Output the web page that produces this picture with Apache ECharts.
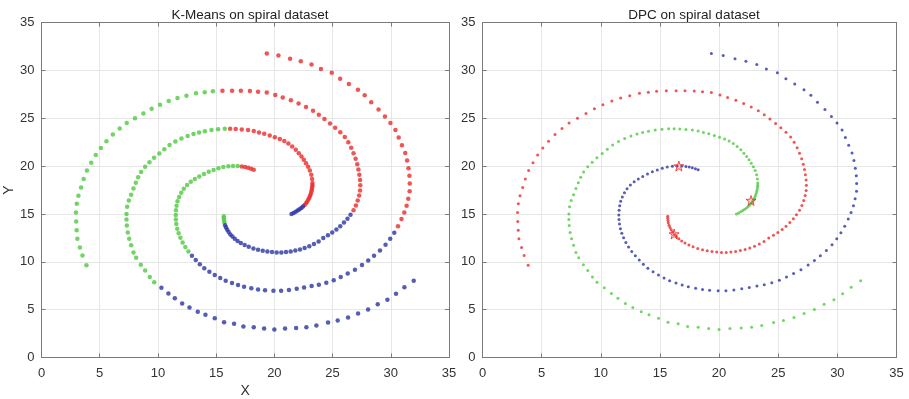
<!DOCTYPE html>
<html>
<head>
<meta charset="utf-8">
<script src="https://cdn.jsdelivr.net/npm/echarts@6/dist/echarts.min.js"></script>
<style>
  html, body { margin: 0; padding: 0; background: #fff; }
  #chart { width: 909px; height: 399px; }
</style>
</head>
<body>
<div id="chart"></div>
<script>
// each point: [x, y, k-means cluster]; the arm itself is the DPC cluster
const armGreen = [
  [31.97, 8.01, 'b'], [31.17, 7.35, 'b'], [30.45, 6.65, 'b'], [29.71, 6.03, 'b'], [28.88, 5.57, 'b'],
  [28.05, 5.02, 'b'], [27.19, 4.6, 'b'], [26.33, 4.18, 'b'], [25.44, 3.87, 'b'], [24.61, 3.66, 'b'],
  [23.61, 3.34, 'b'], [22.75, 3.17, 'b'], [21.87, 3.07, 'b'], [20.92, 3.03, 'b'], [20.0, 2.93, 'b'],
  [19.12, 3.03, 'b'], [18.23, 3.17, 'b'], [17.34, 3.24, 'b'], [16.54, 3.52, 'b'], [15.68, 3.69, 'b'],
  [14.88, 4.11, 'b'], [14.08, 4.46, 'b'], [13.42, 4.77, 'b'], [12.71, 5.22, 'b'], [12.08, 5.64, 'b'],
  [11.45, 6.2, 'b'], [10.9, 6.69, 'b'], [10.3, 7.28, 'b'],
  [9.68, 7.87, 'g'], [9.3, 8.4, 'g'], [8.9, 9.09, 'g'], [8.53, 9.68, 'g'], [8.13, 10.41, 'g'],
  [7.9, 10.97, 'g'], [7.7, 11.74, 'g'], [7.53, 12.4, 'g'], [7.41, 13.06, 'g'], [7.33, 13.79, 'g'],
  [7.3, 14.42, 'g'], [7.3, 14.98, 'g'], [7.36, 15.74, 'g'], [7.5, 16.4, 'g'], [7.7, 17.0, 'g'],
  [7.9, 17.65, 'g'], [8.1, 18.25, 'g'], [8.3, 18.82, 'g'], [8.55, 19.37, 'g'], [8.9, 19.93, 'g'],
  [9.27, 20.4, 'g'], [9.67, 20.88, 'g'], [10.12, 21.32, 'g'], [10.55, 21.75, 'g'], [11.0, 22.2, 'g'],
  [11.5, 22.58, 'g'], [12.02, 22.88, 'g'], [12.55, 23.14, 'g'], [13.06, 23.36, 'g'], [13.53, 23.52, 'g'],
  [14.03, 23.65, 'g'], [14.6, 23.76, 'g'], [15.17, 23.85, 'g'], [15.74, 23.89, 'g'],
  [16.2, 23.89, 'r'], [16.68, 23.87, 'r'], [17.2, 23.83, 'r'], [17.74, 23.77, 'r'], [18.23, 23.66, 'r'],
  [18.68, 23.52, 'r'], [19.13, 23.37, 'r'], [19.6, 23.2, 'r'], [20.04, 23.02, 'r'], [20.47, 22.82, 'r'],
  [20.85, 22.62, 'r'], [21.2, 22.36, 'r'], [21.53, 22.04, 'r'], [21.84, 21.7, 'r'], [22.1, 21.35, 'r'],
  [22.33, 21.0, 'r'], [22.53, 20.65, 'r'], [22.72, 20.3, 'r'], [22.9, 19.94, 'r'], [23.05, 19.54, 'r'],
  [23.17, 19.1, 'r'], [23.24, 18.65, 'r'], [23.27, 18.22, 'r'], [23.27, 18.0, 'r'], [23.25, 17.78, 'r'],
  [23.22, 17.56, 'r'], [23.18, 17.34, 'r'], [23.13, 17.12, 'r'], [23.07, 16.91, 'r'], [23.0, 16.7, 'r'],
  [22.92, 16.5, 'r'], [22.82, 16.3, 'r'], [22.72, 16.11, 'r'], [22.6, 15.93, 'r'],
  [22.46, 15.77, 'b'], [22.32, 15.62, 'b'], [22.16, 15.48, 'b'], [22.0, 15.35, 'b'], [21.83, 15.22, 'b'],
  [21.65, 15.1, 'b'], [21.47, 14.98, 'b']
];

const armRed = [
  [3.86, 9.65, 'g'], [3.52, 10.66, 'g'], [3.3, 11.5, 'g'], [3.08, 12.4, 'g'], [3.02, 13.3, 'g'],
  [2.98, 14.22, 'g'], [2.96, 15.15, 'g'], [3.03, 16.06, 'g'], [3.17, 16.9, 'g'], [3.4, 17.76, 'g'],
  [3.62, 18.66, 'g'], [3.9, 19.55, 'g'], [4.27, 20.35, 'g'], [4.66, 21.15, 'g'], [5.1, 21.88, 'g'],
  [5.58, 22.6, 'g'], [6.13, 23.3, 'g'], [6.72, 23.93, 'g'], [7.32, 24.5, 'g'], [8.03, 25.0, 'g'],
  [8.75, 25.5, 'g'], [9.46, 26.0, 'g'], [10.18, 26.4, 'g'], [10.93, 26.8, 'g'], [11.68, 27.1, 'g'],
  [12.45, 27.35, 'g'], [13.27, 27.6, 'g'], [14.02, 27.72, 'g'], [14.72, 27.82, 'g'],
  [15.54, 27.86, 'r'], [16.37, 27.86, 'r'], [17.12, 27.86, 'r'], [17.9, 27.84, 'r'], [18.6, 27.77, 'r'],
  [19.35, 27.68, 'r'], [20.08, 27.43, 'r'], [20.72, 27.17, 'r'], [21.42, 26.87, 'r'], [22.08, 26.53, 'r'],
  [22.72, 26.16, 'r'], [23.32, 25.77, 'r'], [23.82, 25.35, 'r'], [24.3, 24.93, 'r'], [24.78, 24.46, 'r'],
  [25.22, 24.0, 'r'], [25.66, 23.53, 'r'], [26.05, 23.04, 'r'], [26.35, 22.5, 'r'], [26.6, 21.92, 'r'],
  [26.8, 21.34, 'r'], [26.98, 20.77, 'r'], [27.12, 20.2, 'r'], [27.22, 19.65, 'r'], [27.3, 19.1, 'r'],
  [27.36, 18.55, 'r'], [27.38, 18.0, 'r'], [27.36, 17.45, 'r'], [27.28, 16.92, 'r'], [27.16, 16.4, 'r'],
  [27.0, 15.88, 'r'], [26.8, 15.38, 'r'],
  [26.54, 14.92, 'b'], [26.28, 14.5, 'b'], [25.98, 14.1, 'b'], [25.66, 13.72, 'b'], [25.33, 13.38, 'b'],
  [24.97, 13.06, 'b'], [24.6, 12.77, 'b'], [24.2, 12.48, 'b'], [23.8, 12.12, 'b'], [23.4, 11.86, 'b'],
  [23.0, 11.62, 'b'], [22.6, 11.43, 'b'], [22.2, 11.28, 'b'], [21.8, 11.17, 'b'], [21.4, 11.08, 'b'],
  [21.0, 11.02, 'b'], [20.6, 10.98, 'b'], [20.2, 10.98, 'b'], [19.8, 11.02, 'b'], [19.4, 11.07, 'b'],
  [19.0, 11.14, 'b'], [18.6, 11.25, 'b'], [18.2, 11.4, 'b'], [17.8, 11.56, 'b'], [17.45, 11.75, 'b'],
  [17.12, 11.96, 'b'], [16.84, 12.17, 'b'], [16.6, 12.4, 'b'], [16.4, 12.63, 'b'], [16.22, 12.86, 'b'],
  [16.07, 13.1, 'b'], [15.95, 13.34, 'b'], [15.85, 13.58, 'b'], [15.77, 13.82, 'b'],
  [15.71, 14.08, 'g'], [15.68, 14.32, 'g'], [15.66, 14.55, 'g'], [15.66, 14.76, 'g']
];

const armBlue = [
  [19.35, 31.76, 'r'], [20.35, 31.55, 'r'], [21.35, 31.21, 'r'], [22.27, 30.96, 'r'], [23.19, 30.6, 'r'],
  [24.0, 30.15, 'r'], [24.93, 29.74, 'r'], [25.65, 29.12, 'r'], [26.4, 28.58, 'r'], [27.18, 27.98, 'r'],
  [27.76, 27.4, 'r'], [28.32, 26.68, 'r'], [28.95, 25.92, 'r'], [29.5, 25.18, 'r'], [29.97, 24.5, 'r'],
  [30.4, 23.78, 'r'], [30.68, 22.98, 'r'], [30.96, 22.18, 'r'], [31.24, 21.36, 'r'], [31.4, 20.57, 'r'],
  [31.52, 19.78, 'r'], [31.6, 18.98, 'r'], [31.63, 18.18, 'r'], [31.62, 17.36, 'r'], [31.5, 16.58, 'r'],
  [31.36, 15.86, 'r'], [31.16, 15.16, 'r'], [30.92, 14.46, 'r'], [30.62, 13.72, 'r'],
  [30.3, 13.04, 'b'], [29.95, 12.4, 'b'], [29.55, 11.77, 'b'], [29.07, 11.18, 'b'], [28.56, 10.63, 'b'],
  [28.06, 10.14, 'b'], [27.53, 9.66, 'b'], [26.92, 9.16, 'b'], [26.3, 8.78, 'b'], [25.7, 8.42, 'b'],
  [25.1, 8.08, 'b'], [24.46, 7.82, 'b'], [23.82, 7.6, 'b'], [23.2, 7.46, 'b'], [22.55, 7.32, 'b'],
  [21.92, 7.18, 'b'], [21.25, 7.05, 'b'], [20.58, 6.98, 'b'], [19.92, 6.97, 'b'], [19.2, 7.02, 'b'],
  [18.6, 7.1, 'b'], [18.02, 7.23, 'b'], [17.4, 7.38, 'b'], [16.88, 7.58, 'b'], [16.36, 7.78, 'b'],
  [15.82, 8.02, 'b'], [15.35, 8.3, 'b'], [14.88, 8.63, 'b'], [14.42, 8.95, 'b'], [13.98, 9.33, 'b'],
  [13.6, 9.75, 'b'], [13.25, 10.18, 'b'], [12.92, 10.62, 'b'],
  [12.62, 11.08, 'g'], [12.35, 11.55, 'g'], [12.12, 12.02, 'g'], [11.93, 12.5, 'g'], [11.78, 12.98, 'g'],
  [11.66, 13.46, 'g'], [11.58, 13.94, 'g'], [11.54, 14.42, 'g'], [11.53, 14.9, 'g'], [11.55, 15.38, 'g'],
  [11.6, 15.86, 'g'], [11.68, 16.32, 'g'], [11.82, 16.78, 'g'], [12.0, 17.22, 'g'], [12.22, 17.64, 'g'],
  [12.5, 18.02, 'g'], [12.82, 18.36, 'g'], [13.17, 18.65, 'g'], [13.55, 18.91, 'g'], [13.95, 19.16, 'g'],
  [14.36, 19.4, 'g'], [14.78, 19.6, 'g'], [15.2, 19.77, 'g'], [15.62, 19.9, 'g'], [16.05, 19.97, 'g'],
  [16.45, 20.0, 'g'], [16.85, 20.0, 'g'],
  [17.2, 19.96, 'r'], [17.48, 19.9, 'r'], [17.74, 19.82, 'r'], [18.0, 19.71, 'r'], [18.23, 19.61, 'r']
];

// DPC cluster centres (red stars)
const dpcCenters = [[16.6, 20.0], [22.7, 16.4], [16.2, 12.9]];

const ticks = [0, 5, 10, 15, 20, 25, 30, 35];

const RED = '#ec2b2b';
const GREEN = '#4dc93f';
const BLUE = '#2a35a3';
const kColor = { r: RED, g: GREEN, b: BLUE };

const allPoints = armGreen.concat(armRed, armBlue);
const kmeansOf = k => allPoints.filter(p => p[2] === k).map(p => [p[0], p[1]]);
const xy = arm => arm.map(p => [p[0], p[1]]);

const STAR = 'path://M50,2 L61,36 L97,36 L68,57 L79,92 L50,70 L21,92 L32,57 L3,36 L39,36 Z';

const axisColor = '#7a7a7a';
const FONT = 'Liberation Sans, Arial, sans-serif';
const labelStyle = { color: '#333', fontSize: 13, fontFamily: FONT };

function mainX(gridIndex, name) {
  return {
    type: 'value', gridIndex, min: 0, max: 35, interval: 5, position: 'bottom',
    name, nameLocation: 'middle', nameGap: 27,
    nameTextStyle: { color: '#333', fontSize: 14, fontFamily: FONT },
    axisLine: { show: true, onZero: false, lineStyle: { color: axisColor, width: 1 } },
    axisTick: { show: true, inside: true, length: 4, lineStyle: { color: axisColor } },
    axisLabel: Object.assign({ margin: 9, formatter: v => ticks.includes(v) ? v : '' }, labelStyle),
    splitLine: { show: true, lineStyle: { color: '#e6e6e6', width: 1 } }
  };
}
function mainY(gridIndex, name) {
  return {
    type: 'value', gridIndex, min: 0, max: 35, interval: 5, position: 'left',
    name, nameLocation: 'middle', nameGap: 19,
    nameTextStyle: { color: '#333', fontSize: 14, fontFamily: FONT },
    axisLine: { show: true, onZero: false, lineStyle: { color: axisColor, width: 1 } },
    axisTick: { show: true, inside: true, length: 4, lineStyle: { color: axisColor } },
    axisLabel: Object.assign({ margin: 7 }, labelStyle),
    splitLine: { show: true, lineStyle: { color: '#e6e6e6', width: 1 } }
  };
}
function boxAxis(gridIndex, position) {
  return {
    type: 'value', gridIndex, min: 0, max: 35, interval: 5, position,
    axisLine: { show: true, onZero: false, lineStyle: { color: axisColor, width: 1 } },
    axisTick: { show: true, inside: true, length: 4, lineStyle: { color: axisColor } },
    axisLabel: { show: false },
    splitLine: { show: false }
  };
}

function dots(xi, yi, data, color, size) {
  return {
    type: 'scatter', xAxisIndex: xi, yAxisIndex: yi, data,
    symbol: 'circle', symbolSize: size,
    itemStyle: { color }, silent: true
  };
}

const chart = echarts.init(document.getElementById('chart'), null, { renderer: 'canvas' });

chart.setOption({
  animation: false,
  backgroundColor: '#fff',
  title: [
    { text: 'K-Means on spiral dataset', left: 245, top: 3, textAlign: 'center',
      textStyle: { fontSize: 13.5, fontWeight: 'normal', color: '#222', fontFamily: FONT } },
    { text: 'DPC on spiral dataset', left: 689, top: 3, textAlign: 'center',
      textStyle: { fontSize: 13.5, fontWeight: 'normal', color: '#222', fontFamily: FONT } }
  ],
  grid: [
    { left: 41.5, top: 22.5, width: 407.5, height: 335, containLabel: false, outerBoundsMode: 'none' },
    { left: 482.5, top: 22.5, width: 414, height: 335, containLabel: false, outerBoundsMode: 'none' }
  ],
  xAxis: [mainX(0, 'X'), boxAxis(0, 'top'), mainX(1, ''), boxAxis(1, 'top')],
  yAxis: [mainY(0, 'Y'), boxAxis(0, 'right'), mainY(1, ''), boxAxis(1, 'right')],
  series: [
    dots(0, 0, kmeansOf('r'), kColor.r, 4.5),
    dots(0, 0, kmeansOf('g'), kColor.g, 4.5),
    dots(0, 0, kmeansOf('b'), kColor.b, 4.5),
    dots(2, 2, xy(armRed), RED, 3),
    dots(2, 2, xy(armGreen), GREEN, 3),
    dots(2, 2, xy(armBlue), BLUE, 3),
    {
      type: 'scatter', xAxisIndex: 2, yAxisIndex: 2, data: dpcCenters,
      symbol: STAR, symbolSize: 10, silent: true, z: 5,
      itemStyle: { color: 'rgba(236,43,43,0.25)', borderColor: RED, borderWidth: 1 }
    }
  ]
});
</script>
</body>
</html>
